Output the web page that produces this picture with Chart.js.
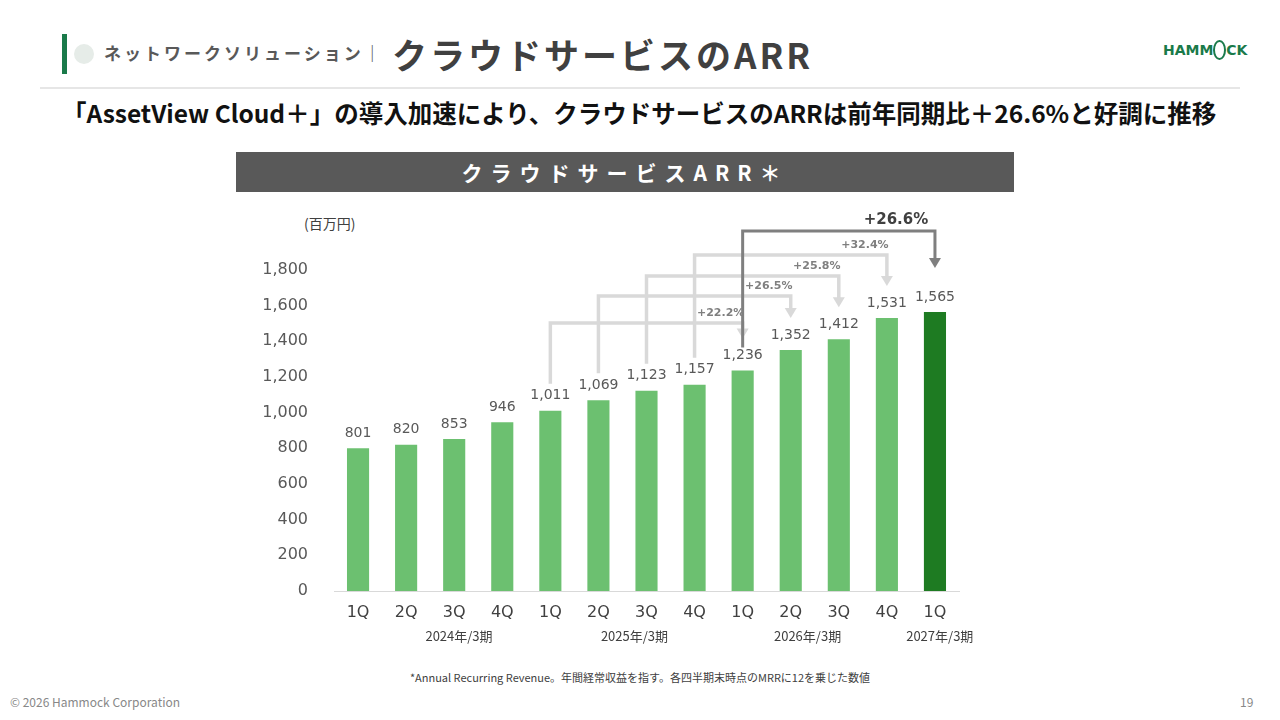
<!DOCTYPE html>
<html><head><meta charset="utf-8">
<script src="https://cdn.jsdelivr.net/npm/chart.js@4"></script>
<style>
body{margin:0;width:1280px;height:720px;background:#fff;font-family:"Noto Sans CJK JP","Noto Sans",sans-serif;position:relative;overflow:hidden}
.abs{position:absolute}
</style></head><body>
<div class="abs" style="left:62px;top:34px;width:5px;height:40px;background:#1a7a4a"></div>
<div class="abs" style="left:74px;top:44px;width:20px;height:20px;border-radius:50%;background:#e6ece8"></div>
<div class="abs" style="left:104px;top:40px;font-size:17px;font-weight:bold;color:#595959;letter-spacing:3px">ネットワークソリューション｜</div>
<div class="abs" style="left:392px;top:28px;font-size:35px;font-weight:bold;color:#404040;letter-spacing:3px">クラウドサービスのARR</div>
<div class="abs" style="left:1163px;top:42px;font-size:14px;font-weight:bold;color:#1a7a4a;font-family:'DejaVu Sans'">HAMM<span style="border:2px solid #1a7a4a;border-radius:50%;padding:0 2px">&nbsp;</span>CK</div>
<div class="abs" style="left:40px;top:87px;width:1200px;height:2px;background:#e6e6e6"></div>
<div class="abs" style="left:62px;top:95px;font-size:24.5px;font-weight:bold;color:#111;white-space:nowrap">「AssetView Cloud＋」の導入加速により、クラウドサービスのARRは前年同期比＋26.6%と好調に推移</div>
<div class="abs" style="left:236px;top:152px;width:778px;height:40px;background:#595959;color:#fff;font-size:21px;font-weight:bold;text-align:center;line-height:40px;letter-spacing:8px">クラウドサービスARR＊</div>
<div class="abs" style="left:304px;top:213px;font-size:14px;color:#404040">(百万円)</div>
<div class="abs" style="left:0;width:1280px;top:669px;text-align:center;font-size:11px;color:#404040">*Annual Recurring Revenue。年間経常収益を指す。各四半期末時点のMRRに12を乗じた数値</div>
<div class="abs" style="left:10px;top:693px;font-size:12px;color:#888">© 2026 Hammock Corporation</div>
<div class="abs" style="left:1240px;top:693px;font-size:12px;color:#888">19</div>
<canvas id="c" class="abs" style="left:244px;top:200px"></canvas>
<script>
const quarters=["1Q","2Q","3Q","4Q","1Q","2Q","3Q","4Q","1Q","2Q","3Q","4Q","1Q"];
const arr=[801,820,853,946,1011,1069,1123,1157,1236,1352,1412,1531,1565];
const yearLabels=["2024年/3期","2025年/3期","2026年/3期","2027年/3期"];
const yearCenters=[2.1,5.75,9.35,12.1];
const growthFrom=[4,5,6,7,8];
const growthLabels=["+22.2%","+26.5%","+25.8%","+32.4%","+26.6%"];
const colors=arr.map((v,i)=>i===arr.length-1?"#1e7b22":"#6cc070");
const cv=document.getElementById('c');cv.width=760;cv.height=451;cv.style.width='760px';cv.style.height='451px';
const deco={id:'deco',afterDatasetsDraw(ch){
 const c=ch.ctx,x=ch.scales.x,y=ch.scales.y;
 c.save();c.textAlign='center';c.textBaseline='bottom';
 c.font='14px "DejaVu Sans"';c.fillStyle='#595959';
 arr.forEach((v,i)=>c.fillText(v.toLocaleString('en-US'),x.getPixelForValue(i),y.getPixelForValue(v)-8));
 c.font='13px "Noto Sans CJK JP"';c.fillStyle='#404040';c.textBaseline='middle';
 yearLabels.forEach((t,i)=>c.fillText(t,x.getPixelForValue(yearCenters[i]),ch.chartArea.bottom+45));
 const top=y.getPixelForValue(1800);
 const levels=[top+53,top+26,top+6,top-15,top-39];
 growthFrom.forEach((s,k)=>{
  const dark=k===4;const x1=x.getPixelForValue(s),x2=x.getPixelForValue(s+4);
  const y1=dark?y.getPixelForValue(arr[s])-23:y.getPixelForValue(arr[s])-27;
  const y2=y.getPixelForValue(arr[s+4])-(dark?44:32);
  const L=levels[k];
  c.strokeStyle=dark?'#7f7f7f':'#d9d9d9';c.lineWidth=dark?3:3.5;
  c.beginPath();c.moveTo(x1,y1);c.lineTo(x1,L);c.lineTo(x2,L);c.lineTo(x2,y2-8);c.stroke();
  c.fillStyle=c.strokeStyle;c.beginPath();c.moveTo(x2-6,y2-10);c.lineTo(x2+6,y2-10);c.lineTo(x2,y2);c.fill();
  c.textBaseline='bottom';
  if(dark){c.font='bold 15px "DejaVu Sans"';c.fillStyle='#404040';c.fillText(growthLabels[k],x2-39,L-3);}
  else{c.font='bold 11px "DejaVu Sans"';c.fillStyle='#7f7f7f';c.fillText(growthLabels[k],x2-22,L-4);}
 });
 c.restore();}};
new Chart(cv,{type:'bar',data:{labels:quarters,datasets:[{data:arr,backgroundColor:colors,barPercentage:0.46,categoryPercentage:1}]},
options:{responsive:false,animation:false,layout:{padding:{top:70,right:45}},
plugins:{legend:{display:false},tooltip:{enabled:false}},
scales:{x:{grid:{display:false},border:{color:'#d9d9d9'},ticks:{color:'#404040',font:{size:16,family:'DejaVu Sans'},padding:4},afterFit(s){s.height=60}},
y:{min:0,max:1800,grid:{display:false},border:{display:false},ticks:{stepSize:200,color:'#595959',font:{size:16,family:'DejaVu Sans'},padding:18,callback:v=>v.toLocaleString('en-US')},afterFit(s){s.width=90}}}},
plugins:[deco]});
</script></body></html>
